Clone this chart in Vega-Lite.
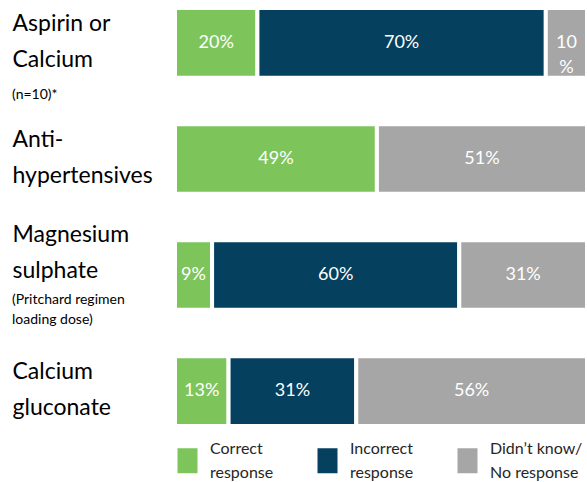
{
  "$schema": "https://vega.github.io/schema/vega-lite/v6.json",
  "width": 412,
  "height": 434,
  "autosize": {"type": "none"},
  "padding": {"left": 175, "top": 0, "right": 0, "bottom": 48},
  "config": {
    "view": {"stroke": null},
    "font": "Lato",
    "style": {"guide-label": {"lineHeight": 24}}
  },

  "datasets": {
    "shares": [
      {"Medicine": "Aspirin or\nCalcium", "Response": "Correct\nresponse", "Share": 20},
      {"Medicine": "Aspirin or\nCalcium", "Response": "Incorrect\nresponse", "Share": 70},
      {"Medicine": "Aspirin or\nCalcium", "Response": "Didn’t know/\nNo response", "Share": 10},
      {"Medicine": "Anti-\nhypertensives", "Response": "Correct\nresponse", "Share": 49},
      {"Medicine": "Anti-\nhypertensives", "Response": "Incorrect\nresponse", "Share": 0},
      {"Medicine": "Anti-\nhypertensives", "Response": "Didn’t know/\nNo response", "Share": 51},
      {"Medicine": "Magnesium\nsulphate", "Response": "Correct\nresponse", "Share": 9},
      {"Medicine": "Magnesium\nsulphate", "Response": "Incorrect\nresponse", "Share": 60},
      {"Medicine": "Magnesium\nsulphate", "Response": "Didn’t know/\nNo response", "Share": 31},
      {"Medicine": "Calcium\ngluconate", "Response": "Correct\nresponse", "Share": 13},
      {"Medicine": "Calcium\ngluconate", "Response": "Incorrect\nresponse", "Share": 31},
      {"Medicine": "Calcium\ngluconate", "Response": "Didn’t know/\nNo response", "Share": 56}
    ],
    "notes": [
      {"Medicine": "Aspirin or\nCalcium", "Note": "(n=10)*"},
      {"Medicine": "Magnesium\nsulphate", "Note": "(Pritchard regimen\nloading dose)"}
    ]
  },

  "encoding": {
    "y": {
      "field": "Medicine",
      "type": "nominal",
      "sort": null,
      "title": null,
      "scale": {
        "domain": ["Aspirin or\nCalcium", "Anti-\nhypertensives", "Magnesium\nsulphate", "Calcium\ngluconate"],
        "paddingInner": 0.4,
        "paddingOuter": 0.07
      },
      "axis": {
        "domain": false,
        "ticks": false,
        "labelAlign": "left",
        "labelBaseline": "middle",
        "labelPadding": 163,
        "labelLimit": 200,
        "labelFontSize": 23,
        "labelLineHeight": 36,
        "labelColor": "#000000",
        "labelOffset": {"condition": {"test": "datum.value == 'Magnesium\\nsulphate'", "value": -40}, "value": -19},
        "labelExpr": "split(datum.value, '\\n')"
      }
    }
  },

  "layer": [
    {
      "data": {"name": "shares"},
      "transform": [
        {"filter": "datum.Share > 0"},
        {"calculate": "indexof(['Correct\\nresponse', 'Incorrect\\nresponse', 'Didn’t know/\\nNo response'], datum.Response)", "as": "Rank"},
        {"stack": "Share", "groupby": ["Medicine"], "sort": [{"field": "Rank", "order": "ascending"}], "as": ["x0", "x1"]},
        {"calculate": "(datum.x0 + datum.x1) / 2", "as": "mid"},
        {"calculate": "datum.Share == 10 ? '10\\n%' : datum.Share + '%'", "as": "Label"}
      ],
      "layer": [
        {
          "mark": {"type": "bar", "stroke": "white", "strokeWidth": 4},
          "encoding": {
            "x": {"field": "x0", "type": "quantitative", "scale": {"domain": [0, 100]}, "axis": null},
            "x2": {"field": "x1"},
            "color": {
              "field": "Response",
              "type": "nominal",
              "scale": {
                "domain": ["Correct\nresponse", "Incorrect\nresponse", "Didn’t know/\nNo response"],
                "range": ["#7DC55B", "#05405F", "#A6A6A6"]
              },
              "legend": {
                "title": null,
                "orient": "bottom",
                "direction": "horizontal",
                "offset": 14,
                "padding": 0,
                "symbolType": "M-0.8,-1H0.8V1H-0.8Z",
                "symbolSize": 625,
                "symbolStrokeWidth": 0,
                "labelFontSize": 16,
                "labelBaseline": "line-bottom",
                "labelColor": "#262626",
                "labelOffset": 10,
                "labelLimit": 200,
                "gridAlign": "all",
                "columnPadding": 12,
                "labelExpr": "split(datum.label, '\\n')"
              }
            }
          }
        },
        {
          "mark": {"type": "text", "color": "white", "fontSize": 18, "lineBreak": "\n", "lineHeight": 25, "baseline": "middle"},
          "encoding": {
            "x": {"field": "mid", "type": "quantitative"},
            "text": {"field": "Label"}
          }
        }
      ]
    },
    {
      "data": {"name": "notes"},
      "mark": {
        "type": "text",
        "align": "left",
        "baseline": "middle",
        "dx": -163,
        "dy": {"expr": "datum.Medicine == 'Magnesium\\nsulphate' ? 25 : 52"},
        "fontSize": 14,
        "lineBreak": "\n",
        "lineHeight": 20,
        "color": "#000000"
      },
      "encoding": {
        "x": {"datum": 0},
        "text": {"field": "Note"}
      }
    }
  ]
}
